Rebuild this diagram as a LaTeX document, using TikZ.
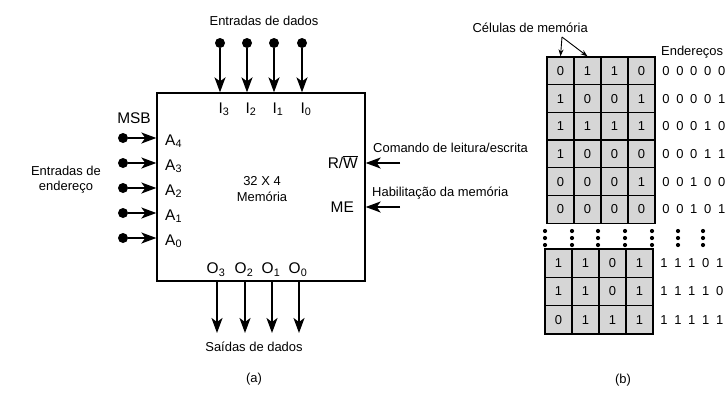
\documentclass[tikz,border=0pt]{standalone}
\usepackage{fontspec}
\setmainfont{Liberation Sans}
\usetikzlibrary{arrows.meta}
\begin{document}
\begin{tikzpicture}[x=1bp,y=-1bp,
  every node/.style={font=\fontsize{13}{15}\selectfont, inner sep=0pt},
  pinlabel/.style={font=\fontsize{15.5}{18}\selectfont},
  sig/.style={line width=1.8bp, -{Stealth[length=15bp,width=11bp,inset=4bp]}},
  pin/.style={circle, fill=black, minimum size=10bp, inner sep=0pt},
  cell/.style={draw, line width=1.3bp, fill=black!16, minimum width=27bp, minimum height=27.7bp},
  cellb/.style={cell, minimum height=28.3bp},
  thinarrow/.style={line width=0.9bp, -{Stealth[length=7bp,width=5bp]}}
]
\useasboundingbox (0,0) rectangle (726,394);

% ---------- (a) memory block ----------
\node[draw, line width=1.3bp, minimum width=208bp, minimum height=188bp] (mem) at (261,187) {};

\node (ttl) at (264,21) {Entradas de dados};
\foreach \x/\i in {220/3,247/2,274/1,302/0}{
  \node[pin] (di\i) at (\x,43) {};
  \draw[sig] (di\i) -- (di\i |- mem.north);
  \node[pinlabel, anchor=base] (li\i) at (\x+4,113) {I\textsubscript{\i}};
}

\node[pinlabel] (msb) at (134,118) {MSB};
\node[align=center] (ent) at (66,180) {Entradas de\\endereço};
\foreach \y/\i in {138/4,163/3,188/2,213/1,238/0}{
  \node[pin] (ai\i) at (123,\y) {};
  \draw[sig] (ai\i) -- (ai\i -| mem.west);
  \node[pinlabel, anchor=base west] (la\i) at (165,\y+7) {A\textsubscript{\i}};
}

\node (m1) at (262,181) {32 X 4};
\node (m2) at (262,197) {Memória};

\coordinate (rw) at (400,163);
\coordinate (me) at (400,207);
\draw[sig] (rw) -- (rw -| mem.east);
\draw[sig] (me) -- (me -| mem.east);
\node[pinlabel, anchor=base east] (lrw) at (358,168.5) {R/$\overline{\mbox{W}}$};
\node[pinlabel, anchor=base east] (lme) at (354,212.5) {ME};
\node[anchor=base west] (crw) at (373,152) {Comando de leitura/escrita};
\node[anchor=base west] (cme) at (372,196) {Habilitação da memória};

\foreach \x/\i in {217/3,245/2,272/1,299/0}{
  \coordinate (ot\i) at (\x,333);
  \draw[sig] (ot\i |- mem.south) -- (ot\i);
  \node[pinlabel, anchor=base] (lo\i) at (\x-1,273.5) {O\textsubscript{\i}};
}
\node (sai) at (254,347) {Saídas de dados};
\node (capa) at (254,379) {(a)};

% ---------- (b) memory cells ----------
\foreach \row [count=\r] in {{0,1,1,0},{1,0,0,1},{1,1,1,1},{1,0,0,0},{0,0,0,1},{0,0,0,0}}{
  \foreach \v [count=\c] in \row {
    \node[cell] (t\r-\c) at (547+27*\c-13.5, 57+27.7*\r-13.85) {\v};
  }
}
\foreach \addr [count=\r] in {{0,0,0,0,0},{0,0,0,0,1},{0,0,0,1,0},{0,0,0,1,1},{0,0,1,0,0},{0,0,1,0,1}}{
  \foreach \d [count=\k] in \addr {
    \node (at\r-\k) at (666+13.9*\k-13.9, 57+27.7*\r-13.85) {\d};
  }
}
\foreach \row [count=\r] in {{1,1,0,1},{1,1,0,1},{0,1,1,1}}{
  \foreach \v [count=\c] in \row {
    \node[cellb] (b\r-\c) at (545+27*\c-13.5, 249+28.3*\r-14.15) {\v};
  }
}
\foreach \addr [count=\r] in {{1,1,1,0,1},{1,1,1,1,0},{1,1,1,1,1}}{
  \foreach \d [count=\k] in \addr {
    \node (ab\r-\k) at (664+13.9*\k-13.9, 249+28.3*\r-14.15) {\d};
  }
}
\foreach \x in {545,572,598,625,652,678,703}{
  \foreach \y in {231,238,245}{
    \fill (\x,\y) circle (2.1bp);
  }
}

\node[anchor=base east] (cel) at (588,32) {Células de memória};
\coordinate (cm) at (562,37);
\draw[thinarrow] (cm) -- (t1-1.north);
\draw[thinarrow] (cm) -- (t1-2.north);
\node[anchor=base west] (end) at (661,55) {Endereços};
\node (capb) at (623,380) {(b)};
\end{tikzpicture}
\end{document}
